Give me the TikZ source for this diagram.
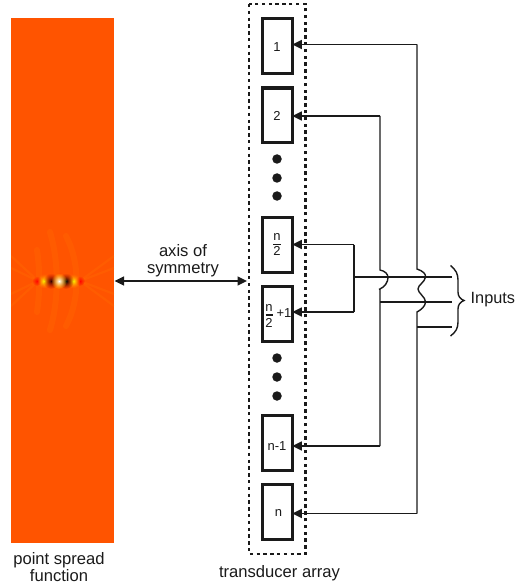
\documentclass[tikz,border=0pt]{standalone}
\usepackage{fontspec}
\setmainfont{Liberation Sans}
\usetikzlibrary{arrows.meta,fadings}
\definecolor{psfbg}{HTML}{FF5400}
\definecolor{psflight}{HTML}{FF7A00}
\definecolor{ink}{HTML}{1A1A1A}
\tikzfading[name=softspot,inner color=transparent!0,middle color=transparent!10,outer color=transparent!100]
\tikzset{
  elem/.style={draw=ink,line width=3.4pt,fill=white,minimum width=29.6pt,minimum height=54.6pt,inner sep=0pt,outer sep=0pt},
  wire/.style={draw=ink,line width=1.4pt},
  thinwire/.style={draw=ink,line width=1.1pt},
  feed/.style={wire,-{Triangle[length=9.5pt,width=9pt]}},
  blob/.style={circle,fill=ink,minimum size=9.5pt,inner sep=0pt},
  lab/.style={font=\fontsize{16.6}{16.5}\selectfont,align=center,text=ink},
  elemtext/.style={font=\fontsize{13}{15}\selectfont,text=ink,inner sep=0pt},
  ray/.style={draw=psflight,line width=2.2pt,opacity=.22},
  arcfaint/.style={draw=psflight,line width=6pt,opacity=.2,line cap=round},
}
\begin{document}
\begin{tikzpicture}[x=1pt,y=-1pt]
\useasboundingbox (0,0) rectangle (516,585);
% point spread function
\fill[psfbg] (11,18) rectangle (114,543);
\begin{scope}
\clip (11,18) rectangle (114,543);
\foreach \yy in {256,268,294,306}{
  \draw[ray] (80,281) -- (114,\yy);
  \draw[ray] (38,281) -- (11,\yy);
}
\draw[arcfaint] (50,232) .. controls (59,262) and (59,300) .. (50,330);
\draw[arcfaint] (66,236) .. controls (80,262) and (80,300) .. (66,326);
\draw[arcfaint] (37,250) .. controls (40,270) and (40,292) .. (37,312);
\end{scope}
\foreach \xx/\rr/\ci/\co in {
   37/5/red/red,
   80/5/red/red,
   44/7.5/yellow/orange,
   73/7.5/yellow/orange,
   51/8/black!80!red/red!75!black,
   66/8/black/red!60!black,
   59/8/white/yellow}{
  \shade[inner color=\ci,outer color=\co,path fading=softspot] (\xx,281) circle[radius=\rr pt];
}
% frame
\draw[ink,line width=2.1pt,dash pattern=on 3.4pt off 3.4pt] (249,4) rectangle (305.5,554);
% elements
\node[elem] (e1) at (277.5,46) {};
\node[elem] (e2) at (277.5,115.5) {};
\node[elem] (e3) at (277.5,245) {};
\node[elem] (e4) at (277.5,314) {};
\node[elem] (e5) at (277.5,443) {};
\node[elem] (e6) at (277.5,512) {};
\node[elemtext] (t1) at (277,47) {1};
\node[elemtext] (t2) at (277,116) {2};
\node[elemtext] (t5) at (277,446) {n-1};
\node[elemtext] (t6) at (278.5,513) {n};
\node[elemtext] (n3) at (277,237.5) {n};
\draw[ink,line width=1.2pt] (273,244.5) -- (280.5,244.5);
\node[elemtext] (d3) at (277,251) {2};
\node[elemtext] (n4) at (269,308) {n};
\draw[ink,line width=1.2pt] (265.5,315) -- (272.5,315);
\node[elemtext] (d4) at (269,323) {2};
\node[elemtext] (p4) at (284,313.5) {+1};
% dots
\foreach \nm/\yy in {a/159,b/178,c/196,d/358,e/377,f/396}{
  \node[blob] (dot\nm) at (277,\yy) {};
}
% coordinates
\coordinate (r1) at (417,44.5);
\coordinate (r2) at (380,116);
\coordinate (r5) at (380,446);
\coordinate (r6) at (417,513.5);
\coordinate (cj1) at (354,244.5);
\coordinate (cj2) at (354,312);
\coordinate (cm) at (354,277);
\coordinate (in1) at (452,277);
\coordinate (in2) at (452,302);
\coordinate (in3) at (452,327);
% feeders
\draw[feed] (r1) -- (r1 -| e1.east);
\draw[feed] (r2) -- (r2 -| e2.east);
\draw[feed] (r5) -- (r5 -| e5.east);
\draw[feed] (r6) -- (r6 -| e6.east);
\draw[feed] (cj1) -- (cj1 -| e3.east);
\draw[feed] (cj2) -- (cj2 -| e4.east);
\draw[wire] (cj1) -- (cj2);
% trunks with hops
\draw[wire] (r2) -- (380,270) .. controls (385,271) and (388,274) .. (388,277.5) .. controls (388,282) and (385,287) .. (379,289.5) (380,289.5) -- (r5);
\draw[wire] (r1) -- (417,269) .. controls (423,271) and (426,274) .. (425.5,277) .. controls (425,282) and (418,285) .. (418,289) .. controls (418,293) and (425.5,297) .. (425.5,302) .. controls (425.5,306) and (421,310) .. (417,312) -- (r6);
% input lines
\draw[thinwire] (cm) -- (in1);
\draw[thinwire] (380,302) -- (in2);
\draw[thinwire] (417,327) -- (in3);
% brace
\draw[wire] (450.5,265.5) .. controls (456,270) and (458,274) .. (458,280) -- (458,292) .. controls (458,296) and (460,299) .. (464,300.5) .. controls (460,302) and (458,305) .. (458,309) -- (458,322) .. controls (458,328) and (456,332) .. (450.5,336);
% labels
\node[lab,anchor=west,inner sep=0pt] (inputs) at (470.5,300) {\fontsize{16.3}{18}\selectfont Inputs};
\node[lab] (psf) at (59,567) {point spread\\function};
\node[lab] (ta) at (279.5,573) {transducer array};
\node[lab] (ax) at (183,260.5) {axis of\\symmetry};
\coordinate (al) at (114.5,281);
\coordinate (ar) at (247,281);
\draw[wire,{Triangle[length=9.5pt,width=9pt]}-{Triangle[length=9.5pt,width=9pt]}] (al) -- (ar);
\end{tikzpicture}
\end{document}
